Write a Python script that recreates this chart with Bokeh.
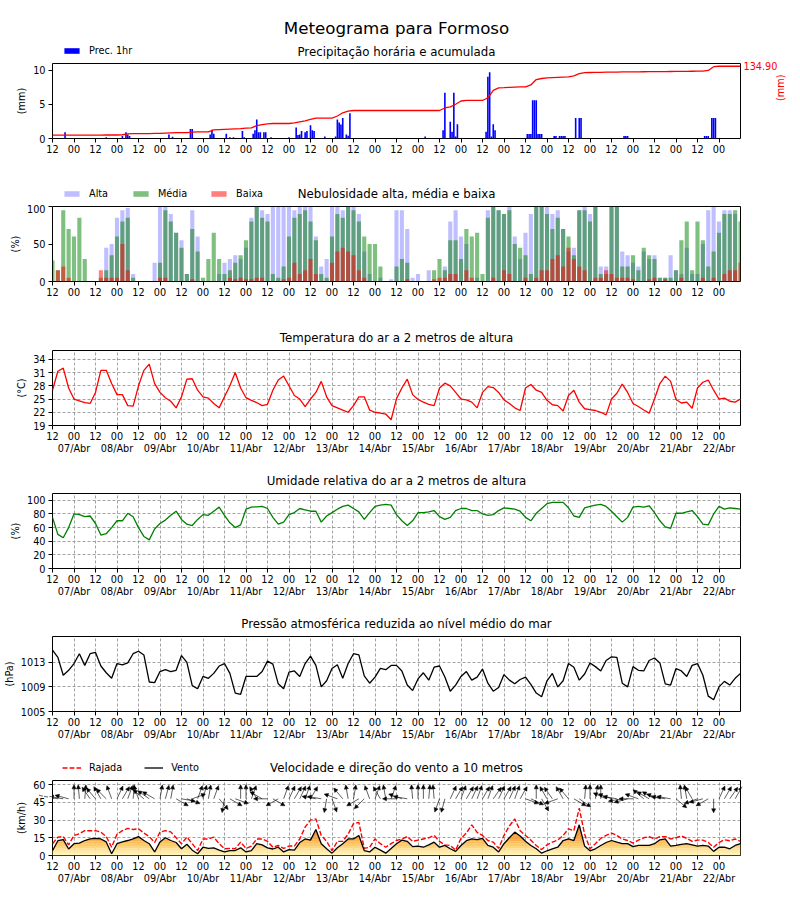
import math
import numpy as np
from bokeh.plotting import figure
from bokeh.models import (ColumnDataSource, Range1d, LinearAxis, FixedTicker, Legend,
                          LegendItem, Arrow, NormalHead)
from bokeh.core.properties import value
from bokeh.layouts import column
from bokeh.embed import file_html
from bokeh.resources import INLINE

FONT = "DejaVu Sans"

# ---------------- data (hours since 06/Abr 12h, 3-hourly) ----------------
hours = list(range(0, 385, 3))

hour_ticks = list(range(0, 373, 12))
hour_labels = ["12", "00", "12", "00", "12", "00", "12", "00", "12", "00", "12", "00",
               "12", "00", "12", "00", "12", "00", "12", "00", "12", "00", "12", "00",
               "12", "00", "12", "00", "12", "00", "12", "00"]
date_ticks = list(range(12, 373, 24))
date_labels = ["07/Abr", "08/Abr", "09/Abr", "10/Abr", "11/Abr", "12/Abr", "13/Abr", "14/Abr",
               "15/Abr", "16/Abr", "17/Abr", "18/Abr", "19/Abr", "20/Abr", "21/Abr", "22/Abr"]

precip_hours = [7, 30, 39, 41, 42, 43, 65, 67, 77, 78, 88, 89, 90, 97, 99, 101, 106, 107,
                112, 113, 114, 115, 116, 118, 119, 122, 132, 136, 137, 138, 139, 141, 142,
                144, 145, 146, 152, 158, 159, 160, 161, 162, 164, 165, 166,
                208, 218, 219, 222, 223, 224, 225, 226, 242, 243, 244, 245, 246, 247,
                265, 266, 267, 268, 269, 270, 271, 272, 273, 280, 281, 283, 284, 285, 286,
                292, 294, 295, 319, 320, 321, 364, 365, 366, 368, 369, 370]
precip_1h = [0.9, 0.2, 0.35, 0.9, 0.6, 0.35, 0.6, 0.25, 1.4, 1.4, 0.6, 1.3, 0.7, 0.7, 0.2, 0.2, 1.1, 0.2,
             0.7, 1.2, 2.8, 0.9, 0.9, 0.9, 0.9, 0.2, 0.2, 1.6, 0.5, 0.6, 1.1, 0.9, 1.1,
             1.95, 1.2, 1.1, 0.3, 0.3, 2.8, 2.35, 2.05, 3.0, 0.6, 0.4, 3.7,
             0.3, 1.2, 6.7, 2.45, 1.0, 6.7, 0.3, 2.1, 1.0, 9.05, 9.7, 0.3, 2.1, 1.2,
             0.65, 0.65, 0.65, 5.6, 5.6, 5.6, 0.65, 0.65, 0.65, 0.35, 0.35, 0.35, 0.35, 0.35, 0.35,
             3.0, 3.0, 3.0, 0.35, 0.35, 0.35, 0.35, 0.35, 0.35, 3.0, 3.0, 3.0]

precip_acc = [6.2, 6.2, 6.2, 6.2, 6.2, 6.2, 6.2, 6.2,
              6.2, 6.2, 6.5, 6.5, 6.5, 7.0, 8.5, 9.0,
              9.0, 9.0, 9.2, 9.5, 9.5, 10.0, 10.5, 10.8,
              10.8, 11.0, 12.0, 12.2, 12.2, 12.2, 16.0, 16.5,
              17.0, 17.5, 18.0, 18.5, 19.5, 20.0, 24.0, 26.0,
              27.4, 28.0, 28.0, 28.0, 28.0, 29.0, 31.0, 33.0,
              35.5, 38.0, 38.0, 38.0, 38.0, 42.0, 48.0, 51.0,
              52.3, 52.3, 52.3, 52.3, 52.3, 52.3, 52.3, 52.3,
              52.3, 52.3, 52.3, 52.3, 52.3, 52.3, 52.3, 52.3,
              52.3, 57.0, 59.0, 64.0, 70.0, 71.0, 71.0, 71.0,
              71.0, 76.0, 90.0, 94.6, 95.0, 95.5, 96.0, 96.2,
              96.4, 100.0, 110.0, 112.0, 113.0, 113.5, 114.0, 114.5,
              115.0, 117.0, 121.0, 123.0, 123.2, 123.4, 123.6, 123.8,
              124.0, 124.0, 124.2, 124.4, 124.4, 124.5, 124.6, 124.7,
              124.8, 124.9, 125.0, 125.1, 125.2, 125.3, 125.4, 125.5,
              125.6, 125.7, 127.0, 134.0, 134.9, 134.9, 134.9, 134.9,
              134.9]

cloud_high = [0, 0, 0, 0, 0, 0, 0, 0,
              0, 0, 45, 50, 85, 95, 98, 10,
              0, 0, 0, 25, 100, 100, 90, 65,
              55, 10, 95, 60, 0, 0, 0, 10,
              25, 30, 35, 30, 45, 85, 100, 95,
              90, 100, 100, 100, 100, 95, 100, 100,
              100, 60, 20, 30, 100, 100, 95, 100,
              100, 90, 40, 10, 0, 5, 0, 3,
              95, 95, 70, 5, 10, 0, 15, 0,
              0, 20, 80, 95, 60, 50, 0, 5,
              0, 95, 100, 95, 90, 100, 60, 30,
              65, 90, 100, 100, 100, 90, 95, 70,
              40, 45, 95, 100, 90, 100, 20, 20,
              100, 100, 40, 35, 25, 20, 40, 30,
              35, 5, 5, 35, 15, 10, 45, 10,
              10, 50, 95, 100, 80, 95, 95, 90,
              0]
cloud_mid = [28, 15, 95, 70, 60, 85, 30, 0,
             0, 5, 15, 35, 60, 80, 85, 5,
             0, 0, 0, 0, 25, 95, 80, 65,
             45, 10, 70, 40, 5, 30, 65, 30,
             10, 15, 25, 35, 55, 80, 100, 85,
             80, 10, 5, 20, 60, 85, 90, 95,
             80, 55, 10, 5, 60, 90, 85, 100,
             95, 80, 60, 50, 50, 20, 0, 0,
             20, 30, 25, 0, 0, 0, 0, 15,
             30, 15, 55, 55, 30, 70, 60, 65,
             10, 85, 100, 95, 90, 95, 50, 45,
             35, 10, 100, 100, 90, 70, 85, 70,
             60, 35, 95, 95, 80, 100, 10, 10,
             100, 100, 20, 20, 35, 15, 45, 35,
             30, 5, 5, 5, 15, 55, 80, 15,
             80, 55, 20, 40, 65, 90, 90, 95,
             80]
cloud_low = [0, 15, 20, 5, 0, 0, 0, 0,
             0, 15, 5, 5, 5, 50, 15, 0,
             0, 0, 0, 0, 5, 5, 0, 0,
             0, 0, 3, 0, 0, 0, 0, 0,
             0, 5, 3, 5, 3, 3, 5, 5,
             0, 0, 0, 3, 5, 25, 10, 15,
             30, 10, 0, 0, 25, 40, 45, 40,
             35, 15, 5, 0, 0, 0, 0, 0,
             0, 0, 3, 0, 0, 0, 0, 3,
             5, 5, 10, 10, 0, 15, 5, 0,
             0, 0, 5, 0, 15, 10, 0, 0,
             5, 0, 5, 15, 15, 30, 35, 20,
             45, 30, 20, 15, 0, 5, 5, 15,
             10, 5, 5, 5, 3, 0, 0, 3,
             5, 0, 3, 0, 0, 5, 0, 0,
             0, 5, 0, 5, 0, 10, 15, 15,
             25]

temperature = [27.0, 31.3, 32.0, 27.5, 25.0, 24.6, 24.2, 24.0,
               26.5, 31.5, 31.5, 28.5, 26.0, 26.0, 23.5, 23.4,
               28.0, 31.5, 32.9, 28.5, 26.5, 25.3, 24.5, 23.0,
               25.5, 29.5, 29.6, 27.0, 25.5, 25.2, 24.0, 23.0,
               25.5, 28.0, 31.0, 27.5, 25.3, 24.7, 24.2, 23.5,
               23.8, 27.0, 29.3, 30.2, 28.0, 25.8, 25.0, 23.3,
               25.0, 26.5, 29.0, 25.5, 23.5, 23.0, 22.5, 22.0,
               23.5, 25.5, 25.5, 22.5, 22.0, 21.8, 21.6, 20.3,
               25.1, 27.5, 29.5, 26.0, 24.9, 24.3, 23.8, 23.5,
               27.5, 28.6, 28.0, 26.5, 25.0, 24.8, 24.3, 23.0,
               26.5, 27.8, 27.6, 26.5, 24.8, 24.0, 23.0, 22.4,
               27.5, 28.3, 27.0, 26.5, 24.7, 23.7, 23.5, 22.3,
               25.8, 27.0, 24.3, 22.8, 22.6, 22.4, 22.0, 21.4,
               25.0, 26.3, 28.4, 26.5, 24.0, 23.3, 22.5, 21.8,
               25.0, 28.5, 30.2, 29.0, 24.9, 24.1, 24.3, 22.9,
               27.5, 28.8, 29.3, 27.0, 25.0, 25.2, 24.5, 24.3,
               25.0]

humidity = [75, 50, 45, 60, 80, 79, 76, 77,
            66, 49, 51, 60, 70, 70, 81, 76,
            60, 47, 42, 58, 66, 71, 78, 84,
            72, 65, 63, 72, 79, 78, 84, 90,
            78, 67, 60, 64, 87, 90, 90.5, 91,
            88, 75, 65, 68, 79, 82, 88, 86,
            84, 84, 68, 77, 82, 87, 91, 93,
            88, 83, 72, 82, 91, 93, 94, 93,
            79, 70, 63, 70, 82, 82, 83, 85,
            76, 72, 75, 85, 88, 88, 85, 85,
            80, 78, 79, 85, 89, 88, 87, 84,
            75, 70, 81, 88, 95, 97, 97, 97,
            89, 77, 75, 89, 91, 93, 94, 91,
            84, 76, 68, 75, 90, 91, 90, 92,
            82, 70, 61, 59, 81, 81, 83, 85,
            76, 65, 64, 80, 91, 87, 89, 88,
            87]

pressure = [1015.0, 1013.8, 1010.9, 1011.7, 1012.8, 1014.4, 1012.5, 1014.4,
            1014.6, 1012.4, 1011.3, 1010.4, 1012.8, 1012.6, 1012.9, 1014.4,
            1014.8, 1014.2, 1009.8, 1009.7, 1011.5, 1011.8, 1011.5, 1011.7,
            1014.1, 1013.0, 1009.2, 1008.7, 1010.7, 1010.4, 1011.2, 1012.4,
            1012.8, 1011.2, 1008.0, 1007.8, 1010.7, 1010.7, 1010.7, 1011.5,
            1013.2, 1012.7, 1009.5, 1008.7, 1011.4, 1011.6, 1010.7, 1012.8,
            1014.0, 1012.5, 1009.0, 1010.0, 1012.0, 1012.6, 1010.4, 1012.8,
            1014.4, 1014.2, 1010.8, 1009.6, 1010.6, 1012.0, 1011.8, 1012.5,
            1012.5, 1011.6, 1009.3, 1008.4, 1010.3, 1011.3, 1010.1, 1012.2,
            1012.4, 1010.6, 1008.3, 1009.3, 1010.7, 1011.5, 1010.1, 1010.6,
            1011.9, 1009.6, 1008.3, 1008.9, 1011.0, 1010.1, 1009.5, 1010.2,
            1010.6, 1009.4, 1008.0, 1007.4, 1010.0, 1011.2, 1009.0, 1010.0,
            1012.8, 1012.2, 1010.1, 1011.1, 1012.9, 1012.3, 1011.6, 1013.3,
            1013.9, 1013.8, 1009.6, 1009.0, 1012.3, 1011.7, 1011.6, 1013.3,
            1013.7, 1012.9, 1009.5, 1009.3, 1012.0, 1011.6, 1010.7, 1012.5,
            1012.8, 1010.9, 1007.5, 1006.9, 1009.0, 1009.9, 1009.3, 1010.4,
            1011.2]

wind = [4.0, 12.5, 13.5, 5.5, 10.0, 10.5, 12.7, 14.0,
        14.5, 14.0, 11.5, 1.5, 10.0, 11.5, 12.7, 14.0,
        16.0, 12.7, 10.0, 3.0, 11.5, 15.0, 12.7, 11.0,
        5.7, 9.5, 4.5, 1.5, 7.0, 6.0, 6.5, 4.5,
        3.0, 4.2, 4.2, 6.5, 3.0, 4.2, 10.0, 9.0,
        6.5, 5.5, 7.0, 3.0, 5.0, 4.5, 11.0, 14.0,
        13.0, 22.0, 10.0, 5.7, 2.0, 6.5, 10.0, 14.0,
        14.0, 17.0, 4.2, 3.0, 7.0, 4.5, 2.0, 6.0,
        10.0, 13.0, 12.0, 7.5, 8.0, 7.0, 9.0, 11.3,
        7.0, 8.5, 5.7, 3.5, 8.5, 12.5, 14.0, 13.5,
        14.5, 8.5, 7.0, 3.0, 10.0, 15.0, 19.8, 16.5,
        12.0, 8.5, 5.7, 2.0, 4.0, 5.7, 7.0, 12.7,
        14.0, 12.7, 26.0, 8.0, 4.0, 5.7, 8.5, 11.0,
        12.7, 11.3, 10.0, 10.0, 7.5, 8.5, 8.5, 8.5,
        10.0, 13.3, 14.0, 8.0, 8.5, 9.5, 10.0, 9.0,
        8.0, 8.5, 8.0, 3.5, 7.0, 7.0, 5.7, 8.5,
        10.0]

gust = [10, 15.6, 16, 9, 17, 18.4, 21, 21,
        21, 19.8, 16, 7, 18, 21, 23, 22,
        22.6, 19, 16, 11, 19.8, 21, 20, 15,
        10, 15.6, 10, 4.2, 14, 14, 15.6, 10,
        5.7, 6, 5.7, 11.3, 6, 8, 14, 14,
        12, 7, 8.5, 6, 8, 8, 14, 24,
        30, 31, 17, 12, 4.2, 12, 12, 18,
        27, 28, 6, 7, 14, 10, 7, 10,
        12.7, 14, 16, 12, 13, 14, 15, 17,
        12, 9, 8.5, 4.5, 14.5, 19, 26, 19.5,
        17, 12.7, 11.3, 6, 17, 25, 31, 21,
        17, 13, 8.5, 5, 9, 11.3, 13, 17,
        22.6, 21, 40, 18, 5.7, 10, 14.5, 17,
        19, 17, 14, 12.7, 10.5, 13, 15, 16,
        14, 16, 16, 14, 15, 16.5, 14.5, 12,
        13, 13, 11, 7, 11, 13.3, 12.5, 14,
        12]

wind_dir = [105, 100, 100, 105, 180, 175, 185, 145,
            140, 150, 135, 160, 205, 210, 200, 185,
            160, 130, 125, 120, 190, 195, 190, 300,
            280, 290, 250, 200, 195, 190, 200, 320,
            10, 300, 290, 180, 180, 200, 150, 120,
            90, 300, 60, 200, 205, 210, 205, 200,
            210, 100, 100, 10, 340, 110, 140, 170,
            190, 60, 45, 160, 200, 150, 170, 200,
            90, 110, 100, 175, 180, 180, 185, 175,
            20, 15, 205, 210, 200, 210, 205, 200,
            210, 200, 215, 205, 210, 205, 200, 210,
            290, 295, 180, 330, 150, 145, 70, 150,
            140, 300, 305, 185, 180, 190, 180, 115,
            110, 100, 80, 75, 90, 110, 130, 120,
            120, 110, 100, 100, 310, 175, 170, 150,
            70, 75, 60, 0, 205, 210, 215, 210,
            210]

# ---------------- helpers ----------------
FW, FH = 688, 75
TICK_FS = "9.7px"
TITLE_FS = "11.8px"


def style_axis(ax):
    ax.major_label_text_font = FONT
    ax.major_label_text_font_size = TICK_FS
    ax.major_label_text_color = "black"
    ax.axis_label_text_font = FONT
    ax.axis_label_text_font_size = TICK_FS
    ax.axis_label_text_font_style = "normal"
    ax.axis_label_text_color = "black"
    ax.major_tick_line_color = "black"
    ax.major_tick_out = 4
    ax.major_tick_in = 0
    ax.minor_tick_line_color = None
    ax.axis_line_color = None


def make_fig(yr, yticks, ylabel, grid, dates):
    p = figure(frame_width=FW, frame_height=FH, x_range=Range1d(0, 384), y_range=Range1d(*yr),
               min_border_left=48, min_border_right=48, min_border_top=2, min_border_bottom=33,
               toolbar_location=None, output_backend="svg",
               background_fill_color="white", border_fill_color="white")
    p.title.visible = False
    p.outline_line_color = "black"
    p.outline_line_width = 1
    p.outline_line_alpha = 1
    p.xaxis.ticker = FixedTicker(ticks=hour_ticks)
    p.xaxis.major_label_overrides = dict(zip(hour_ticks, hour_labels))
    p.xaxis.major_label_standoff = 2
    p.yaxis.ticker = FixedTicker(ticks=yticks)
    p.yaxis.axis_label = ylabel
    p.yaxis.major_label_standoff = 3
    p.yaxis.axis_label_standoff = 3
    style_axis(p.xaxis[0])
    style_axis(p.yaxis[0])
    if grid:
        for g, tk in ((p.xgrid, hour_ticks), (p.ygrid, yticks)):
            g.ticker = FixedTicker(ticks=tk)
            g.grid_line_color = "#8c8c8c"
            g.grid_line_dash = "3 2"
            g.grid_line_width = 0.8
    else:
        p.xgrid.grid_line_color = None
        p.ygrid.grid_line_color = None
    if dates:
        dax = LinearAxis(ticker=FixedTicker(ticks=date_ticks),
                         major_label_overrides=dict(zip(date_ticks, date_labels)),
                         major_label_standoff=0)
        style_axis(dax)
        dax.major_tick_line_color = None
        dax.major_tick_out = 0
        p.add_layout(dax, "below")
    return p


def make_header(h, titles, legend_specs=None):
    """Strip above a panel holding its title(s) and legend. titles: (text, y_from_bottom, size)."""
    hp = figure(frame_width=FW, frame_height=h, x_range=Range1d(0, 1), y_range=Range1d(0, h),
                min_border_left=48, min_border_right=48, min_border_top=0, min_border_bottom=0,
                x_axis_type=None, y_axis_type=None, toolbar_location=None, output_backend="svg",
                background_fill_color="white", border_fill_color="white")
    hp.title.visible = False
    hp.outline_line_color = None
    for text, y, size in titles:
        hp.text(x=[0.5], y=[y], text=[text], text_align="center", text_baseline="middle",
                text_font=value(FONT), text_font_size=size, text_color="black")
    if legend_specs:
        items = []
        for label, kind, style in legend_specs:
            # legend proxies: one point placed outside the strip's visible range
            if kind == "bar":
                r = hp.vbar(x=[5], top=[1], width=1, line_color=None, **style)
            else:
                r = hp.line(x=[5, 6], y=[1, 1], **style)
            items.append(LegendItem(label=label, renderers=[r]))
        lg = Legend(items=items, location=(10, 5), orientation="horizontal",
                    background_fill_alpha=0, border_line_color=None, padding=0, margin=0,
                    spacing=22, label_text_font=FONT, label_text_font_size=TICK_FS,
                    label_text_color="black", glyph_width=19, glyph_height=7, label_standoff=8,
                    label_height=10)
        hp.add_layout(lg)
    return hp


# ---------------- panel 1: precipitation ----------------
h1 = make_header(61, [("Meteograma para Formoso", 34, "16.7px"),
                      ("Precipitação horária e acumulada", 10, TITLE_FS)],
                 [("Prec. 1hr", "bar", dict(fill_color="blue"))])
p1 = make_fig((0, 11), [0, 5, 10], "(mm)", False, False)
p1.extra_y_ranges = {"acc": Range1d(0, 140)}
src_p = ColumnDataSource(dict(t=precip_hours, v=precip_1h))
p1.vbar(x="t", top="v", width=0.9, source=src_p, fill_color="blue", line_color=None)
p1.line(hours, precip_acc, y_range_name="acc", line_color="red", line_width=1.3)
rax = LinearAxis(y_range_name="acc", ticker=FixedTicker(ticks=[precip_acc[-1]]),
                 major_label_overrides={precip_acc[-1]: f"{precip_acc[-1]:.2f}"},
                 axis_label="(mm)", axis_label_standoff=0, major_label_standoff=3)
style_axis(rax)
rax.major_tick_out = 0
rax.major_tick_line_color = None
rax.major_label_text_color = "red"
rax.axis_label_text_color = "red"
try:
    rax.axis_label_orientation = math.pi / 2
except Exception:
    pass
p1.add_layout(rax, "right")

# ---------------- panel 2: clouds ----------------
h2 = make_header(33, [("Nebulosidade alta, média e baixa", 10.5, TITLE_FS)],
                 [("Alta", "bar", dict(fill_color="blue", fill_alpha=0.25)),
                  ("Média", "bar", dict(fill_color="green", fill_alpha=0.5)),
                  ("Baixa", "bar", dict(fill_color="red", fill_alpha=0.5))])
p2 = make_fig((0, 100), [0, 50, 100], "(%)", False, False)
src_c = ColumnDataSource(dict(t=hours, hi=cloud_high, mi=cloud_mid, lo=cloud_low))
p2.vbar(x="t", top="hi", width=2.3, source=src_c, fill_color="blue", fill_alpha=0.25, line_color=None)
p2.vbar(x="t", top="mi", width=2.3, source=src_c, fill_color="green", fill_alpha=0.5, line_color=None)
p2.vbar(x="t", top="lo", width=2.3, source=src_c, fill_color="red", fill_alpha=0.5, line_color=None)

# ---------------- panel 3: temperature ----------------
h3 = make_header(34, [("Temperatura do ar a 2 metros de altura", 10.5, TITLE_FS)])
p3 = make_fig((19, 36), [19, 22, 25, 28, 31, 34], "(°C)", True, True)
p3.line(hours, temperature, line_color="red", line_width=1.3)

# ---------------- panel 4: humidity ----------------
h4 = make_header(33, [("Umidade relativa do ar a 2 metros de altura", 10.5, TITLE_FS)])
p4 = make_fig((0, 110), [0, 20, 40, 60, 80, 100], "(%)", True, True)
p4.line(hours, humidity, line_color="green", line_width=1.3)

# ---------------- panel 5: pressure ----------------
h5 = make_header(33, [("Pressão atmosférica reduzida ao nível médio do mar", 10.5, TITLE_FS)])
p5 = make_fig((1005, 1017.2), [1005, 1009, 1013], "(hPa)", True, True)
p5.line(hours, pressure, line_color="black", line_width=1.3)

# ---------------- panel 6: wind ----------------
h6 = make_header(34, [("Velocidade e direção do vento a 10 metros", 10.5, TITLE_FS)],
                 [("Rajada", "line", dict(line_color="red", line_width=1.4, line_dash="5 2")),
                  ("Vento", "line", dict(line_color="black", line_width=1.3))])
p6 = make_fig((0, 63.5), [0, 15, 30, 45, 60], "(km/h)", True, True)
wind_arr = np.array(wind, dtype=float)
levels = [0, 2, 4, 6, 8, 10, 12, 14, 17, 21, 26, 40]
band_colors = ["#fff3bd", "#ffeaa6", "#ffe192", "#fed67f", "#fdca6c", "#fbbe5d",
               "#f9b14f", "#f6a442", "#f29636", "#ec872a", "#e27820"]
for lo, hi, c in zip(levels[:-1], levels[1:], band_colors):
    p6.varea(x=hours, y1=np.minimum(wind_arr, lo), y2=np.minimum(wind_arr, hi),
             fill_color=c, fill_alpha=1.0)
p6.line(hours, gust, line_color="red", line_width=1.4, line_dash="5 2")
p6.line(hours, wind, line_color="black", line_width=1.3)

# direction arrows (every 3 h, last instant omitted so no arrow leaves the frame)
arr_t = np.array(hours[:-1], dtype=float)
rad = np.deg2rad(np.array(wind_dir[:-1], dtype=float))
px_h = FW / 384.0
px_k = FH / 63.5
L = 14.0
base = 48.0
arr_src = ColumnDataSource(dict(
    x0=arr_t, y0=np.full(len(arr_t), base),
    x1=arr_t + L * (-np.sin(rad)) / px_h,
    y1=base + L * (-np.cos(rad)) / px_k))
p6.add_layout(Arrow(end=NormalHead(size=4, fill_color="black", line_color="black", line_width=0.5),
                    source=arr_src, x_start="x0", y_start="y0", x_end="x1", y_end="y1",
                    line_color="black", line_width=0.7, line_alpha=0.9))

layout = column(h1, p1, h2, p2, h3, p3, h4, p4, h5, p5, h6, p6, spacing=0)
open("out.html", "w").write(file_html(layout, INLINE, title="Meteograma para Formoso"))
